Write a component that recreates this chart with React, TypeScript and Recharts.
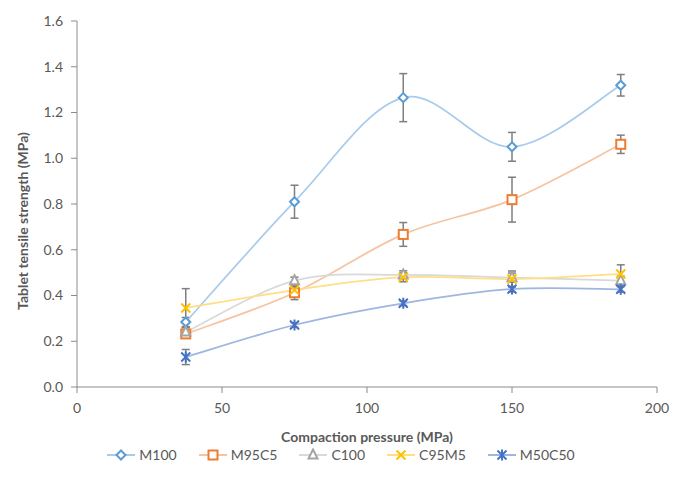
import React from 'react';
import { LineChart, Line, XAxis, YAxis, ErrorBar, Legend, Label } from 'recharts';

// compaction pressure (MPa)
const pressures = [37.5, 75, 112.5, 150, 187.5];

// tensile strength (MPa) and error bar half-widths
const m100 = [0.284, 0.81, 1.265, 1.05, 1.319];
const m100Err = [0.02, 0.072, 0.105, 0.063, 0.047];
const m95c5 = [0.232, 0.412, 0.667, 0.819, 1.061];
const m95c5Err = [0.015, 0.03, 0.052, 0.098, 0.04];
const c100 = [0.24, 0.465, 0.49, 0.478, 0.465];
const c100Err = [0.02, 0.015, 0.018, 0.02, 0.02];
const c95m5 = [0.345, 0.424, 0.48, 0.472, 0.494];
const c95m5Err = [0.085, 0.015, 0.02, 0.035, 0.04];
const m50c50 = [0.131, 0.271, 0.366, 0.428, 0.427];
const m50c50Err = [0.033, 0.01, 0.01, 0.012, 0.012];

const yTicks = [0, 0.2, 0.4, 0.6, 0.8, 1.0, 1.2, 1.4, 1.6];
const xTicks = [0, 50, 100, 150, 200];

const data = pressures.map((p, i) => ({
  p,
  M100: m100[i], M100e: m100Err[i],
  M95C5: m95c5[i], M95C5e: m95c5Err[i],
  C100: c100[i], C100e: c100Err[i],
  C95M5: c95m5[i], C95M5e: c95m5Err[i],
  M50C50: m50c50[i], M50C50e: m50c50Err[i],
}));

const TEXT = '#595959';
const AXIS = '#8c8c8c';
const ERR = '#7f7f7f';

// excel-ish smoothed line (catmull-rom through the points)
const excelSmooth = (context: any) => {
  let pts: number[][] = [];
  return {
    areaStart() {},
    areaEnd() {},
    lineStart() { pts = []; },
    point(x: number, y: number) { pts.push([+x, +y]); },
    lineEnd() {
      if (!pts.length) return;
      context.moveTo(pts[0][0], pts[0][1]);
      for (let i = 0; i < pts.length - 1; i++) {
        const p0 = pts[Math.max(i - 1, 0)];
        const p1 = pts[i];
        const p2 = pts[i + 1];
        const p3 = pts[Math.min(i + 2, pts.length - 1)];
        context.bezierCurveTo(
          p1[0] + (p2[0] - p0[0]) / 6, p1[1] + (p2[1] - p0[1]) / 6,
          p2[0] - (p3[0] - p1[0]) / 6, p2[1] - (p3[1] - p1[1]) / 6,
          p2[0], p2[1],
        );
      }
    },
  };
};

type Shape = 'diamond' | 'square' | 'triangle' | 'x' | 'star';

const Marker = ({ shape, cx, cy, color }: { shape: Shape; cx: number; cy: number; color: string }) => {
  const s = 4.5;
  const common = { stroke: color, strokeWidth: 2, fill: '#fff' };
  if (shape === 'diamond')
    return <polygon points={`${cx},${cy - s} ${cx + s},${cy} ${cx},${cy + s} ${cx - s},${cy}`} {...common} />;
  if (shape === 'square')
    return <rect x={cx - s} y={cy - s} width={s * 2} height={s * 2} {...common} />;
  if (shape === 'triangle')
    return <polygon points={`${cx},${cy - s - 1} ${cx + s},${cy + s - 1} ${cx - s},${cy + s - 1}`} {...common} />;
  const x = (
    <>
      <line x1={cx - s} y1={cy - s} x2={cx + s} y2={cy + s} stroke={color} strokeWidth={2} />
      <line x1={cx - s} y1={cy + s} x2={cx + s} y2={cy - s} stroke={color} strokeWidth={2} />
    </>
  );
  if (shape === 'x') return <g>{x}</g>;
  return (
    <g>
      {x}
      <line x1={cx} y1={cy - s - 1} x2={cx} y2={cy + s + 1} stroke={color} strokeWidth={2} />
    </g>
  );
};

const series: { key: string; shape: Shape; marker: string; line: string }[] = [
  { key: 'M100', shape: 'diamond', marker: '#5b9bd5', line: '#a9cbec' },
  { key: 'M95C5', shape: 'square', marker: '#ed7d31', line: '#f7c4a2' },
  { key: 'C100', shape: 'triangle', marker: '#a5a5a5', line: '#d9d9d9' },
  { key: 'C95M5', shape: 'x', marker: '#ffc000', line: '#ffdf85' },
  { key: 'M50C50', shape: 'star', marker: '#4472c4', line: '#9fb5e2' },
];

const renderLegend = () => (
  <div style={{ display: 'flex', justifyContent: 'center', gap: 22, fontFamily: 'Lato', fontSize: 14, color: TEXT }}>
    {series.map((s) => (
      <div key={s.key} style={{ display: 'flex', alignItems: 'center', gap: 4 }}>
        <svg width={28} height={14}>
          <line x1={0} y1={7} x2={28} y2={7} stroke={s.line} strokeWidth={2} />
          <Marker shape={s.shape} cx={14} cy={7} color={s.marker} />
        </svg>
        <span>{s.key}</span>
      </div>
    ))}
  </div>
);

const YTitle = (props: any) => {
  const vb = props.viewBox || {};
  const x = 22;
  const y = (vb.y ?? 21) + (vb.height ?? 366) / 2 + 17;
  return (
    <text
      x={x}
      y={y}
      transform={`rotate(-90 ${x} ${y})`}
      textAnchor="middle"
      dominantBaseline="central"
      fill={TEXT}
      fontSize={14}
      fontWeight="bold"
      fontFamily="Lato"
    >
      Tablet tensile strength (MPa)
    </text>
  );
};

export default function App() {
  return (
    <div style={{ position: 'absolute', left: 0, top: 0, background: '#fff' }}>
      <LineChart width={682} height={488} data={data} margin={{ top: 21, right: 25, left: 0, bottom: 71 }}>
        <XAxis
          dataKey="p"
          type="number"
          domain={[0, 200]}
          ticks={xTicks}
          stroke={AXIS}
          tickSize={6}
          tickMargin={10}
          tick={{ fill: TEXT, fontSize: 14, fontFamily: 'Lato' }}
          height={30}
        >
          <Label
            value="Compaction pressure (MPa)"
            position="bottom"
            offset={15}
            style={{ fill: TEXT, fontSize: 14, fontWeight: 'bold', fontFamily: 'Lato' }}
          />
        </XAxis>
        <YAxis
          type="number"
          domain={[0, 1.6]}
          ticks={yTicks}
          stroke={AXIS}
          tickSize={6}
          tickMargin={8}
          width={77}
          tickFormatter={(v: number) => v.toFixed(1)}
          tick={{ fill: TEXT, fontSize: 14, fontFamily: 'Lato' }}
        >
          <Label content={YTitle} />
        </YAxis>
        {series.map((s) => (
          <Line
            key={s.key}
            dataKey={s.key}
            type={excelSmooth as any}
            stroke={s.line}
            strokeWidth={1.75}
            isAnimationActive={false}
            dot={(props: any) => (
              <Marker key={`${s.key}-${props.index}`} shape={s.shape} cx={props.cx} cy={props.cy} color={s.marker} />
            )}
            activeDot={false}
          >
            <ErrorBar dataKey={`${s.key}e`} direction="y" width={4} stroke={ERR} strokeWidth={1.5} />
          </Line>
        ))}
        <Legend
          verticalAlign="middle"
          align="center"
          layout="horizontal"
          content={renderLegend}
          wrapperStyle={{ position: 'absolute', top: 446, left: 0, width: 682 }}
        />
      </LineChart>
    </div>
  );
}
